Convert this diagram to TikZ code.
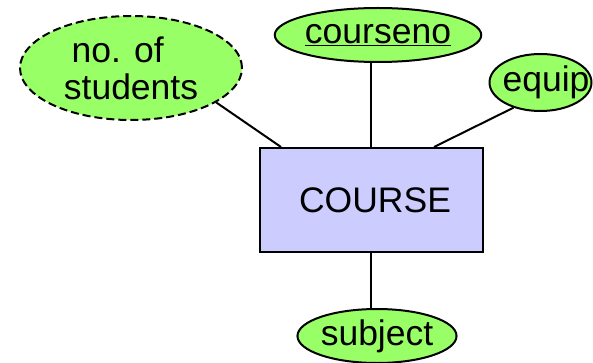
\documentclass[tikz,border=0pt]{standalone}
\usepackage{fontspec}
\setmainfont{Liberation Sans}
\usetikzlibrary{shapes.geometric,calc}
\definecolor{attrgreen}{RGB}{153,255,102}
\definecolor{entblue}{RGB}{204,204,255}
\tikzset{
  attr/.style={ellipse, draw=black, fill=attrgreen, line width=2pt, inner sep=0pt, font=\fontsize{35.5}{37}\selectfont},
  derived/.style={attr, dash pattern=on 8pt off 4pt},
  entity/.style={rectangle, draw=black, fill=entblue, line width=2pt, inner sep=0pt, font=\fontsize{35.5}{37}\selectfont},
  link/.style={line width=2pt, draw=black}
}
\begin{document}
\begin{tikzpicture}[x=1pt,y=-1pt]
\useasboundingbox (0,0) rectangle (593,363);
\node[entity, minimum width=223pt, minimum height=104pt] (course) at (371,200) {\hspace*{8pt}COURSE};
\node[derived, minimum width=222pt, minimum height=104pt, align=center] (nos) at (131,68) {no. of\hspace*{0.75em}\\students};
\node[attr, minimum width=194pt, minimum height=54pt] (cno) at (378,35) {\underline{courseno}};
\node[attr, minimum width=102pt, minimum height=57pt] (equip) at (540.5,82.5) {\makebox[0pt]{\hspace*{11pt}equip}};
\node[attr, minimum width=152pt, minimum height=54pt] (subj) at (377,336) {subject};
\draw[link] (nos.-22) -- ($(course.north west)!0.1!(course.north east)$);
\draw[link] (course.north) -- (course.north |- cno.south);
\draw[link] (equip.223) -- ($(course.north west)!0.78!(course.north east)$);
\draw[link] (course.south) -- (course.south |- subj.north);
\end{tikzpicture}
\end{document}
